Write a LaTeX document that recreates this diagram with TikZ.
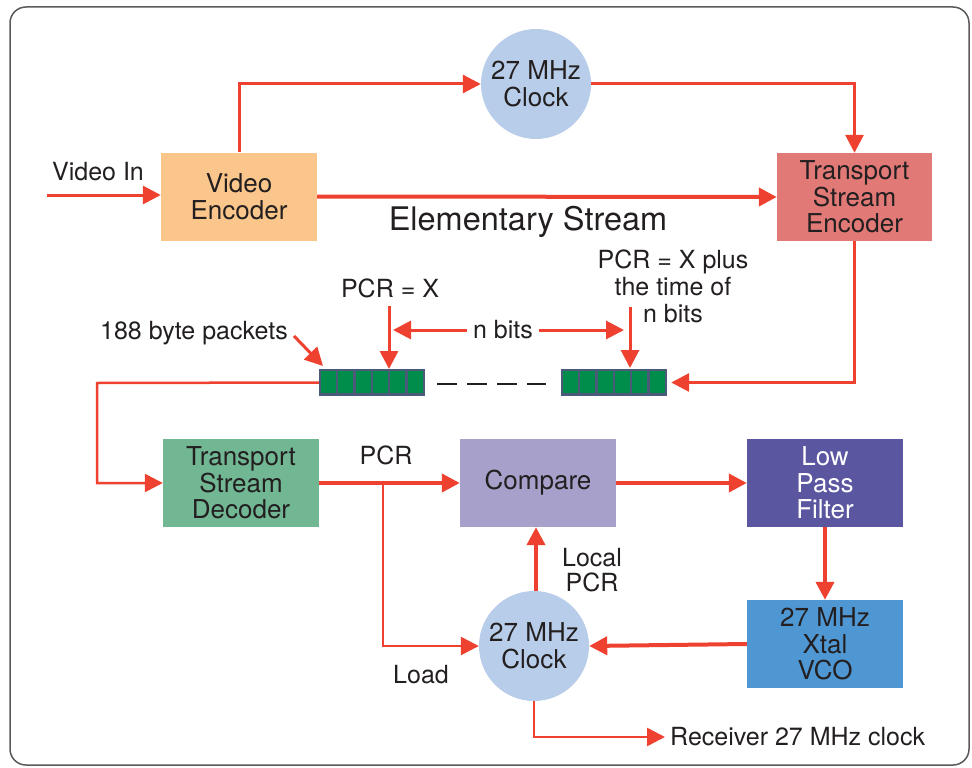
\documentclass[tikz,border=0pt]{standalone}
\usepackage{fontspec}
\setmainfont{TeX Gyre Heros}
\usetikzlibrary{arrows.meta,calc}
\definecolor{arrred}{HTML}{EE412F}
\definecolor{vencc}{HTML}{FBC68B}
\definecolor{tencc}{HTML}{E17A77}
\definecolor{tdecc}{HTML}{71B794}
\definecolor{cmpc}{HTML}{A7A0CA}
\definecolor{lpfc}{HTML}{5B56A0}
\definecolor{vcoc}{HTML}{4F97D2}
\definecolor{clkc}{HTML}{B8CDE9}
\definecolor{pgreen}{HTML}{008C4A}
\definecolor{pslate}{HTML}{4B5A78}
\definecolor{txtc}{HTML}{231F20}
\definecolor{framec}{HTML}{5A5A5A}
\newcommand\bxfont{\fontsize{26}{26.5}\selectfont}
\newcommand\lbfont{\fontsize{25}{26}\selectfont}
\tikzset{
  blk/.style={draw=none, minimum width=156pt, minimum height=88pt, inner sep=0pt, align=center, font=\bxfont, text=txtc},
  clockc/.style={circle, fill=clkc, minimum size=110pt, inner sep=0pt, align=center, font=\bxfont, text=txtc},
  lbl/.style={inner sep=0pt, align=center, font=\lbfont, text=txtc},
  tip/.style={-{Triangle[length=18pt,width=18pt]}},
  wire/.style={draw=arrred, line width=4pt},
  wirem/.style={draw=arrred, line width=3pt},
  wiret/.style={draw=arrred, line width=2.5pt},
  pkt/.style={fill=pslate, minimum width=106pt, minimum height=27pt, inner sep=0pt}
}
\begin{document}
\begin{tikzpicture}[x=1pt,y=-1pt]
\useasboundingbox (0,0) rectangle (972,768);
\draw[framec, line width=1.5pt, rounded corners=16pt] (10,7) rectangle (969,765);

% blocks
\node[blk, fill=vencc] (venc) at (239,196.5) {Video\\Encoder};
\node[blk, fill=tencc, minimum width=155pt] (tenc) at (854.5,197) {Transport\\Stream\\Encoder};
\node[blk, fill=tdecc] (tdec) at (241,483) {Transport\\Stream\\Decoder};
\node[blk, fill=cmpc] (cmp) at (538,483) {Compare};
\node[blk, fill=lpfc, text=white] (lpf) at (825,483) {Low\\Pass\\Filter};
\node[blk, fill=vcoc] (vco) at (825,644) {27 MHz\\Xtal\\VCO};
\node[clockc] (clk1) at (536,84) {27 MHz\\Clock};
\node[clockc] (clk2) at (534,646) {27 MHz\\Clock};

% packets
\node[pkt] (pk1) at (372,382.5) {};
\node[pkt] (pk2) at (614,382.5) {};
\foreach \p in {pk1,pk2}{
  \foreach \i in {0,...,5}{
    \fill[pgreen] ($(\p.north west)+(2+\i*17.4,2.5)$) rectangle ++(14.9,22);
  }
}
\coordinate (d1) at (437,384);
\coordinate (d2) at (546,384);
\draw[txtc, line width=2pt, dash pattern=on 20pt off 10pt] (d1) -- (d2);

% labels
\node[lbl] (vinl) at (98,172) {Video In};
\node[lbl, font=\fontsize{32.5}{34}\selectfont] (esl) at (528,222) {Elementary Stream};
\node[lbl] (pcrx) at (390,288) {PCR = X};
\node[lbl, font=\fontsize{25}{27}\selectfont] (pcrn) at (673,286) {PCR = X plus\\the time of\\n bits};
\node[lbl] (nbits) at (503,330) {n bits};
\node[lbl] (byte) at (194,333) {188 byte packets};
\node[lbl] (pcrl) at (386,455) {PCR};
\node[lbl] (load) at (421,675) {Load};
\node[lbl, font=\fontsize{25}{25}\selectfont] (lpcr) at (592,570) {Local\\PCR};
\node[lbl, anchor=west] (recv) at (670,737) {Receiver 27 MHz clock};

% coordinates
\coordinate (vin) at (47,195);
\coordinate (fb) at (97,383);
\coordinate (br) at (383,483);
\coordinate (b1) at (294,336);
\coordinate (b2) at (323,366);
\coordinate (nl) at (393,330);
\coordinate (nr) at (624,330);
\coordinate (px1) at (389,306);
\coordinate (px2) at (389,369);
\coordinate (pn1) at (630,307);
\coordinate (pn2) at (630,368);
\coordinate (rc) at (665,737);

% connectors
\draw[wirem, tip] (vin) -- (venc.west |- vin);
\draw[wirem, tip] (venc.north) |- (clk1.west);
\draw[wirem, tip] (clk1.east) -| (tenc.north);
\draw[wire, tip] (venc.east) -- (tenc.west);
\draw[wirem, tip, shorten >=4pt] (tenc.south) |- (pk2.east);
\draw[wiret, tip] (pk1.west) -- (fb) |- (tdec.west);
\draw[wirem, tip] (px1) -- (px2);
\draw[wirem, tip] (pn1) -- (pn2);
\draw[wirem, tip] (b1) -- (b2);
\draw[wirem, tip] ([xshift=-6pt]nbits.west) -- (nl);
\draw[wirem, tip] ([xshift=6pt]nbits.east) -- (nr);
\draw[wire, tip] (tdec.east) -- (cmp.west);
\draw[wiret, tip] (br) |- (clk2.west);
\draw[wire, tip] (cmp.east) -- (lpf.west);
\draw[wire, tip] (lpf.south) -- (vco.north);
\draw[wire, tip] (vco.west) -- (clk2.east);
\draw[wire, tip] (clk2.north -| 536,0) -- (cmp.south -| 536,0);
\draw[wiret, tip] (clk2.south) |- (rc);
\end{tikzpicture}
\end{document}
